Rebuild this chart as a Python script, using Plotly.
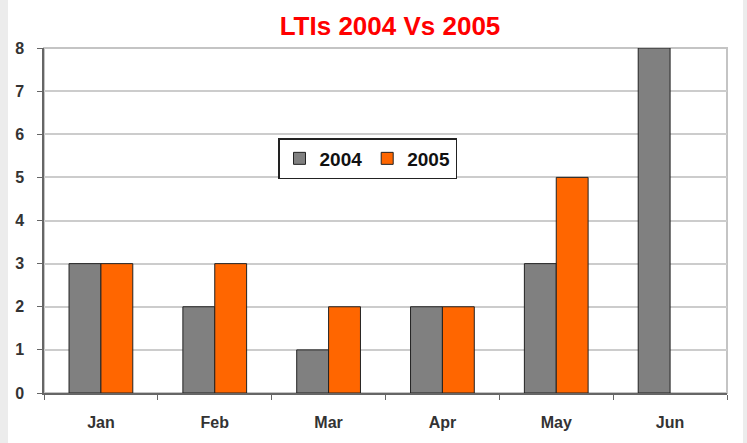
import plotly.graph_objects as go

months = ["Jan", "Feb", "Mar", "Apr", "May", "Jun"]
lti_2004 = [3, 2, 1, 2, 3, 8]
lti_2005 = [3, 3, 2, 2, 5, None]
y_ticks = [0, 1, 2, 3, 4, 5, 6, 7, 8]

W, H = 747, 443
ml, mr, mt, mb = 44, 20, 48, 50
pw = W - ml - mr
ph = H - mt - mb
FONT = "Liberation Sans, Arial, sans-serif"

fig = go.Figure()
fig.add_trace(go.Bar(x=months, y=lti_2004, name="2004",
                     marker=dict(color="#808080", line=dict(color="#222222", width=1))))
fig.add_trace(go.Bar(x=months, y=lti_2005, name="2005",
                     marker=dict(color="#ff6600", line=dict(color="#222222", width=1))))

fig.update_layout(
    width=W, height=H,
    margin=dict(l=ml, r=mr, t=mt, b=mb),
    paper_bgcolor="#ececec",
    plot_bgcolor="white",
    barmode="group",
    bargap=0.44,
    bargroupgap=0,
    title=dict(text="LTIs 2004 Vs 2005", x=(390 - ml) / pw, xref="paper", xanchor="center",
               y=1 - 26 / H, yanchor="middle",
               font=dict(family=FONT, size=26, color="#ff0000", weight="bold")),
    font=dict(family=FONT, color="#333333"),
    legend=dict(orientation="h", x=(278 - ml) / pw, y=1 - (138 - mt) / ph, xanchor="left", yanchor="top",
                bgcolor="white", bordercolor="#222222", borderwidth=1.5,
                font=dict(size=19, color="#111111", family=FONT, weight="bold"),
                itemwidth=30, tracegroupgap=0),
    showlegend=True,
    shapes=[
        dict(type="rect", xref="paper", yref="paper", x0=(8 - ml) / pw, x1=(743 - ml) / pw,
             y0=-mb / ph - 0.02, y1=1 + mt / ph + 0.02, fillcolor="white", line=dict(width=0), layer="below"),
        dict(type="rect", xref="paper", yref="paper", x0=0, x1=1, y0=0, y1=1,
             line=dict(color="#c4c4c4", width=2), fillcolor="rgba(0,0,0,0)", layer="below"),
    ],
)
fig.update_xaxes(
    tickfont=dict(size=16, color="#333333", family=FONT, weight="bold"),
    ticks="outside", tickson="boundaries", ticklen=5, tickcolor="#666666",
    showline=True, linecolor="#666666", linewidth=1.5, showgrid=False,
    ticklabelstandoff=14, automargin=False,
)
fig.update_yaxes(
    range=[0, 8], tickvals=y_ticks,
    tickfont=dict(size=16, color="#333333", family=FONT, weight="bold"),
    ticks="outside", ticklen=5, tickcolor="#666666",
    showline=True, linecolor="#666666", linewidth=1.5,
    showgrid=True, gridcolor="#cccccc", gridwidth=1.5, zeroline=False,
    ticklabelstandoff=10, automargin=False,
)
fig.write_html("out.html", config={"displayModeBar": False},
               post_script="document.body.style.margin='0';")
